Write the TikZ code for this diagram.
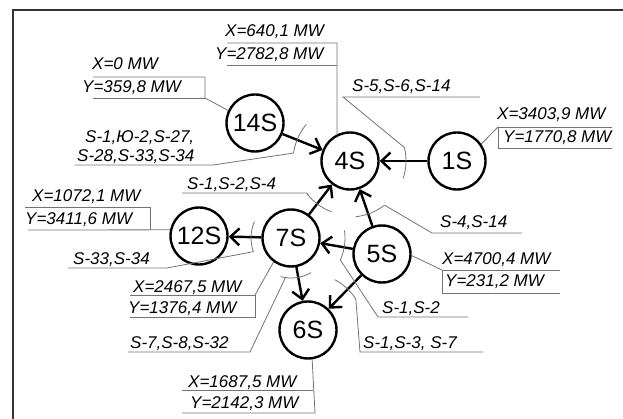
\documentclass[tikz,border=0pt]{standalone}
\usepackage{fontspec}
\setmainfont{Liberation Sans}
\usetikzlibrary{positioning, arrows.meta}

\begin{document}
\begin{tikzpicture}[x=1pt, y=-1pt, main/.style = {draw, circle, line width=2.4pt, minimum size=57pt, inner sep=0pt, font=\fontsize{25}{28}\selectfont}, arr/.style = {line width=2.4pt, -{Straight Barb[length=9pt, width=17pt]}}, thin/.style = {draw=black!55, line width=0.8pt}, lbl/.style = {anchor=base west, inner sep=0pt, font=\itshape\fontsize{17}{20}\selectfont}]
		\useasboundingbox (0,0) rectangle (623,419);
		\draw[black!80, line width=1.2pt] (13,419) -- (13,10) -- (623,10);
		\node[main] (14) at (255,123) {14S};
		\node[main] (4) at (350,161) {4S};
		\node[main] (1) at (457,161) {1S};
		\node[main] (12) at (199,236) {12S};
		\node[main] (7) at (291,238) {7S};
		\node[main] (5) at (382,254) {5S};
		\node[main] (6) at (308,330) {6S};
		\draw[arr] (14) to (4);
		\draw[arr] (1) to (4);
		\draw[arr] (7) to (4);
		\draw[arr] (5) to (4);
		\draw[arr] (7) to (12);
		\draw[arr] (5) to (7);
		\draw[arr] (7) to (6);
		\draw[arr] (5) to (6);
		% values
		\node[lbl] (x4) at (225,37) {X=640,1 MW};
		\node[lbl] (y4) at (215,60) {Y=2782,8 MW};
		\node[lbl] (x14) at (92,70) {X=0 MW};
		\node[lbl] (y14) at (82,93) {Y=359,8 MW};
		\node[lbl] (x1) at (497,120) {X=3403,9 MW};
		\node[lbl] (y1) at (503,143) {Y=1770,8 MW};
		\node[lbl] (x12) at (32,202) {X=1072,1 MW};
		\node[lbl] (y12) at (25,225) {Y=3411,6 MW};
		\node[lbl] (x5) at (442,265) {X=4700,4 MW};
		\node[lbl] (y5) at (445,287) {Y=231,2 MW};
		\node[lbl] (x7) at (133,292) {X=2467,5 MW};
		\node[lbl] (y7) at (128,313) {Y=1376,4 MW};
		\node[lbl] (x6) at (188,387) {X=1687,5 MW};
		\node[lbl] (y6) at (190,408) {Y=2142,3 MW};
		\draw[thin] (227,43) -- (337,43) -- (4.116);
		\draw[thin] (227,65) -- (337,65);
		\draw[thin] (93,77) -- (205,77) -- (205,98) -- (14.155);
		\draw[thin] (93,98) -- (205,98);
		\draw[thin] (612,127) -- (498,127) -- (498,148) -- (612,148);
		\draw[thin] (498,127) -- (1.35);
		\draw[thin] (25,207) -- (150,207) -- (150,230);
		\draw[thin] (28,230) -- (12.168);
		\draw[thin] (560,270) -- (442,270) -- (442,293) -- (560,293);
		\draw[thin] (442,270) -- (5.-3);
		\draw[thin] (130,295) -- (255,295) -- (255,317) -- (130,317);
		\draw[thin] (255,295) -- (7.234);
		\draw[thin] (182,390) -- (313,390);
		\draw[thin] (182,413) -- (315,413) -- (6.278);
		% sections
		\node[lbl] (s14a) at (85,143) {S-1,Ю-2,S-27,};
		\node[lbl] (s14b) at (77,162) {S-28,S-33,S-34};
		\node[lbl] (s1) at (352,92) {S-5,S-6,S-14};
		\node[lbl] (s7a) at (187,190) {S-1,S-2,S-4};
		\node[lbl] (s12) at (73,265) {S-33,S-34};
		\node[lbl] (s5a) at (440,228) {S-4,S-14};
		\node[lbl] (s5b) at (382,313) {S-1,S-2};
		\node[lbl] (s6a) at (130,348) {S-7,S-8,S-32};
		\node[lbl] (s6b) at (363,348) {S-1,S-3, S-7};
		\draw[thin] ([shift={(-140:57)}]4.center) arc[start angle=-140, end angle=-172, radius=57];
		\draw[thin] ([shift={(18:56)}]4.center) arc[start angle=18, end angle=-14, radius=56];
		\draw[thin] ([shift={(-218:54)}]4.center) arc[start angle=-218, end angle=-250, radius=54];
		\draw[thin] ([shift={(-276:56)}]4.center) arc[start angle=-276, end angle=-308, radius=56];
		\draw[thin] ([shift={(-156:40)}]7.center) arc[start angle=-156, end angle=-200, radius=40];
		\draw[thin] ([shift={(-8:54)}]7.center) arc[start angle=-8, end angle=24, radius=54];
		\draw[thin] ([shift={(-255:40)}]7.center) arc[start angle=-255, end angle=-300, radius=40];
		\draw[thin] ([shift={(-33:57)}]6.center) arc[start angle=-33, end angle=-62, radius=57];
		\draw[thin] (75,165) -- (213,165) -- ([shift={(-172:57)}]4.center);
		\draw[thin] (480,97) -- (343,97) -- ([shift={(-14:56)}]4.center);
		\draw[thin] (182,193) -- (307,193) -- ([shift={(-220:54)}]4.center);
		\draw[thin] (522,233) -- (432,233) -- ([shift={(-308:56)}]4.center);
		\draw[thin] (68,268) -- (167,268) -- ([shift={(-200:40)}]7.center);
		\draw[thin] (468,317) -- (378,317) -- ([shift={(24:54)}]7.center);
		\draw[thin] (128,352) -- (250,352) -- ([shift={(-262:40)}]7.center);
		\draw[thin] (483,352) -- (360,352) -- ([shift={(-33:57)}]6.center);
	\end{tikzpicture}
\end{document}
